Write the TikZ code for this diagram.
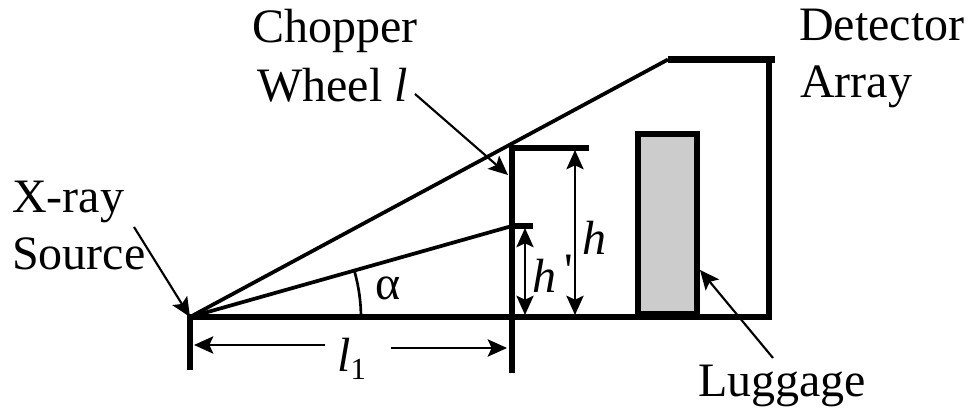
\documentclass[tikz,border=0pt]{standalone}
\usepackage{fontspec}
\setmainfont{Liberation Serif}
\usetikzlibrary{arrows.meta}
\begin{document}
\begin{tikzpicture}[x=0.75pt,y=-0.75pt,>={Stealth[length=14.5pt,width=13pt,inset=3pt]}]
    \tikzset{heavy/.style={line width=4.4pt,line cap=butt},
      ray/.style={line width=2.8pt},
      pointer/.style={->,line width=1.6pt},
      span/.style={<->,line width=1.3pt},
      label/.style={inner sep=0pt,anchor=base west,font=\fontsize{36}{36}\selectfont}}
    \useasboundingbox (0,0) rectangle (971,409);
    % frame points
    \coordinate (src) at (190,317);
    \coordinate (srcLow) at (190,370);
    \coordinate (wheelTop) at (512,146);
    \coordinate (wheelMid) at (512,226);
    \coordinate (wheelLow) at (512,373);
    \coordinate (detL) at (668,59.5);
    \coordinate (detR) at (775,59.5);
    \coordinate (frameTop) at (769,59.5);
    \coordinate (frameBase) at (769,317);
    \coordinate (hTop) at (589,148);
    \coordinate (hLeft) at (512,148);
    \coordinate (hMid) at (533,226);
    % luggage
    \node[draw=black,fill=black!20,line width=4.8pt,inner sep=0pt,minimum width=43.9pt,minimum height=134.6pt] (bag) at (667.5,224) {};
    % structure
    \draw[heavy] (srcLow) -- (src) -- (frameBase) -- (frameTop);
    \draw[heavy] (wheelTop) -- (wheelLow);
    \draw[heavy,line width=3.8pt] (hLeft) -- (hTop);
    \draw[heavy,line width=3.8pt] (wheelMid) -- (hMid);
    \draw[line width=5.6pt] (detL) -- (detR);
    \draw[ray] (src) -- (detL);
    \draw[ray] (src) -- (wheelMid);
    \draw[line width=2pt] (361,318) arc[start angle=0,end angle=15.6,radius=128.25pt];
    % text
    \node[label] (alpha) at (375,300) {α};
    \node[label] (chopper) at (252,43) {Chopper};
    \node[label] (wheel) at (257,102) {Wheel \textit{l}};
    \node[label] (detector) at (799,41) {Detector};
    \node[label] (array) at (800,98) {Array};
    \node[label] (xray) at (12,213) {X-ray};
    \node[label] (source) at (12,270) {Source};
    \node[label] (luggage) at (698,397) {Luggage};
    \node[label] (lone) at (337,372) {\textit{l}\raisebox{-6pt}{\fontsize{23}{23}\selectfont 1}};
    \node[label] (hfull) at (582,255) {\textit{h}};
    \node[label] (hprime) at (532,293) {\textit{h}\,\raisebox{5pt}{\textquotesingle}};
    % connectors
    \coordinate (xrayEnd) at (134,227);
    \coordinate (wheelEnd) at (415,94);
    \coordinate (wheelTip) at (508,175);
    \coordinate (bagEnd) at (773,358);
    \coordinate (bagTip) at (700,270);
    \draw[pointer] (xrayEnd) -- (src);
    \draw[pointer] (wheelEnd) -- (wheelTip);
    \draw[pointer] (bagEnd) -- (bagTip);
    \coordinate (hUp) at (575,150);
    \coordinate (hDown) at (575,315);
    \coordinate (pUp) at (525,228);
    \coordinate (pDown) at (525,315);
    \draw[span] (hUp) -- (hDown);
    \draw[span] (pUp) -- (pDown);
    \coordinate (lLeft) at (194,345);
    \coordinate (lLeftEnd) at (325,345);
    \coordinate (lRight) at (507,348);
    \coordinate (lRightEnd) at (391,348);
    \draw[pointer] (lLeftEnd) -- (lLeft);
    \draw[pointer] (lRightEnd) -- (lRight);
  \end{tikzpicture}
\end{document}
